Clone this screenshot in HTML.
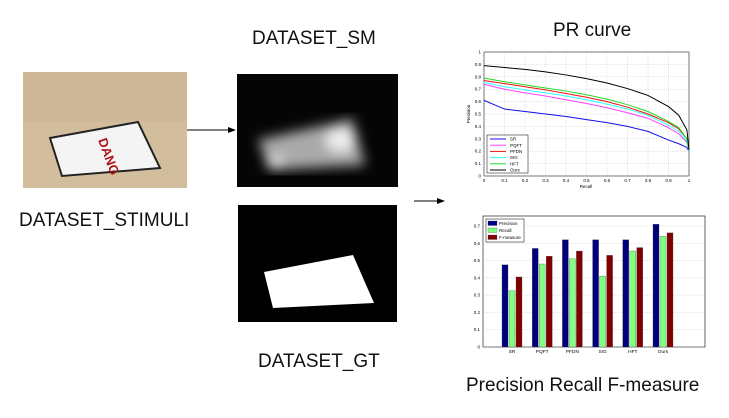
<!DOCTYPE html>
<html><head><meta charset="utf-8"><style>
body{margin:0;background:#fff;width:729px;height:418px;overflow:hidden;position:relative;font-family:"Liberation Sans",sans-serif}
.t{position:absolute;font-size:19px;color:#111;white-space:nowrap}
</style></head><body>
<div class="t" style="left:252px;top:28px">DATASET_SM</div>
<div class="t" style="left:19px;top:210px">DATASET_STIMULI</div>
<div class="t" style="left:258px;top:351px">DATASET_GT</div>
<div class="t" style="left:553px;top:20px">PR curve</div>
<div class="t" style="left:466px;top:375px">Precision Recall F-measure</div>

<svg width="729" height="418" style="position:absolute;left:0;top:0">
<defs>
<filter id="bl"><feGaussianBlur stdDeviation="6"/></filter>
<marker id="ah" markerWidth="8" markerHeight="8" refX="7" refY="4" orient="auto"><path d="M0,1 L8,4 L0,7z" fill="#000"/></marker>
</defs>
<g>
<rect x="23" y="72" width="164" height="116" fill="#d2bd9d"/>
<rect x="23" y="72" width="164" height="50" fill="#cdb898"/>
<polygon points="50,138 138,122 160,168 62,176" fill="#f4f4f4" stroke="#222" stroke-width="2"/>
<text x="98" y="140" font-size="13" fill="#b0151a" font-weight="bold" transform="rotate(70 98 140)">DANG</text>
</g>
<g>
<rect x="237" y="74" width="161" height="113" fill="#050505"/>
<g filter="url(#bl)"><polygon points="258,140 340,122 352,118 365,165 270,170" fill="#aaa"/><ellipse cx="340" cy="140" rx="14" ry="12" fill="#eee"/><ellipse cx="275" cy="162" rx="9" ry="6" fill="#ddd"/></g>
</g>
<g>
<rect x="238" y="205" width="159" height="117" fill="#000"/>
<polygon points="264,272 353,255 374,303 273,308" fill="#fff"/>
</g>
<line x1="187" y1="130" x2="235" y2="130" stroke="#000" stroke-width="1" marker-end="url(#ah)"/>
<line x1="414" y1="201" x2="444" y2="201" stroke="#000" stroke-width="1" marker-end="url(#ah)"/>
<g id="pr"></g>
<g id="bar"></g>
</svg>
<script>
const recall=[0,0.1,0.2,0.3,0.4,0.5,0.6,0.7,0.8,0.9,0.95,0.99,1];
const prNames=["SR","PQFT","PFDN","SIG","HFT","Ours"];
const prColors=["#1010ee","#ff40ff","#ee1010","#30ffff","#20dd20","#000"];
const srP=[.61,.54,.52,.50,.48,.455,.43,.40,.36,.29,.26,.23,.2];
const pqftP=[.74,.70,.67,.645,.615,.585,.55,.51,.465,.39,.34,.27,.2];
const pfdnP=[.77,.745,.72,.695,.665,.635,.60,.555,.50,.43,.38,.30,.22];
const sigP=[.755,.72,.695,.67,.645,.615,.58,.54,.49,.41,.36,.28,.2];
const hftP=[.79,.76,.735,.71,.685,.655,.62,.575,.52,.44,.39,.30,.21];
const oursP=[.89,.875,.86,.84,.815,.785,.75,.705,.65,.56,.49,.37,.21];
const prTicks=[0,0.1,0.2,0.3,0.4,0.5,0.6,0.7,0.8,0.9,1];

const barCats=["SR","PQFT","PFDN","SIG","HFT","Ours"];
const precisionV=[.475,.57,.62,.62,.62,.71];
const recallV=[.325,.48,.51,.41,.555,.64];
const fmeasureV=[.405,.525,.555,.53,.575,.66];
const barTicks=[0,0.1,0.2,0.3,0.4,0.5,0.6,0.7];

const NS="http://www.w3.org/2000/svg";
function mk(p,tag,a){const e=document.createElementNS(NS,tag);for(const k in a)e.setAttribute(k,a[k]);p.appendChild(e);return e;}
// PR
(function(){
const g=document.getElementById('pr');
const X=v=>484+v*205, Y=v=>176-v*124;
mk(g,'rect',{x:484,y:52,width:205,height:124,fill:'#fff',stroke:'#000','stroke-width':0.6});
prTicks.forEach(t=>{
 const gl=mk(g,'line',{x1:X(t),x2:X(t),y1:52,y2:176,stroke:'#bbb','stroke-width':0.4,'stroke-dasharray':'1,1'});
 
 mk(g,'line',{x1:484,x2:689,y1:Y(t),y2:Y(t),stroke:'#bbb','stroke-width':0.4,'stroke-dasharray':'1,1'});
 const tx=mk(g,'text',{x:X(t),y:182,'font-size':4.5,'text-anchor':'middle'});tx.textContent=t;
 
 const ty=mk(g,'text',{x:481,y:Y(t)+1.5,'font-size':4.5,'text-anchor':'end'});ty.textContent=t;
 
});
const xl=mk(g,'text',{x:586,y:188,'font-size':4.5,'text-anchor':'middle'});xl.textContent='Recall';

const yl=mk(g,'text',{x:470,y:114,'font-size':4.5,'text-anchor':'middle',transform:'rotate(-90 470 114)'});yl.textContent='Precision';

const series=[srP,pqftP,pfdnP,sigP,hftP,oursP];
series.forEach((s,i)=>{
 const pl=mk(g,'polyline',{points:s.map((v,j)=>X(recall[j])+','+Y(v)).join(' '),fill:'none',stroke:prColors[i],'stroke-width':1});
 
});
mk(g,'rect',{x:487,y:135,width:41,height:38,fill:'#fff',stroke:'#000','stroke-width':0.5});
prNames.forEach((n,i)=>{
 const y=139+i*6.2;
 mk(g,'line',{x1:490,x2:506,y1:y,y2:y,stroke:prColors[i],'stroke-width':1});
 const t=mk(g,'text',{x:510,y:y+1.6,'font-size':4.5});t.textContent=n;
 
});
})();
// Bars
(function(){
const g=document.getElementById('bar');
const Y=v=>347-v*172.9, x0=483,x1=705;
mk(g,'rect',{x:x0,y:216,width:x1-x0,height:131,fill:'#fff',stroke:'#000','stroke-width':0.6});
barTicks.forEach(t=>{
 mk(g,'line',{x1:x0,x2:x1,y1:Y(t),y2:Y(t),stroke:'#bbb','stroke-width':0.4,'stroke-dasharray':'1,1'});
 const ty=mk(g,'text',{x:480,y:Y(t)+1.5,'font-size':4.5,'text-anchor':'end'});ty.textContent=t;
 
});
const cols=["#00007f","#80ff80","#800000"];
const vals=[precisionV,recallV,fmeasureV];
barCats.forEach((c,i)=>{
 const cx=512+i*30.2;
 vals.forEach((s,k)=>{
  const r=mk(g,'rect',{x:cx-10+k*7,y:Y(s[i]),width:6,height:Y(0)-Y(s[i]),fill:cols[k],stroke:'#444','stroke-width':0.3});
  
  
 });
 const t=mk(g,'text',{x:cx,y:353,'font-size':4.8,'text-anchor':'middle'});t.textContent=c;
 
});
mk(g,'rect',{x:486,y:219,width:38,height:23,fill:'#fff',stroke:'#000','stroke-width':0.5});
["Precision","Recall","F-measure"].forEach((n,k)=>{
 const y=221+k*7;
 mk(g,'rect',{x:488,y:y,width:9,height:4.5,fill:cols[k],stroke:'#444','stroke-width':0.3});
 const t=mk(g,'text',{x:499,y:y+4,'font-size':4.5});t.textContent=n;
 
});
})();
</script>
</body></html>
